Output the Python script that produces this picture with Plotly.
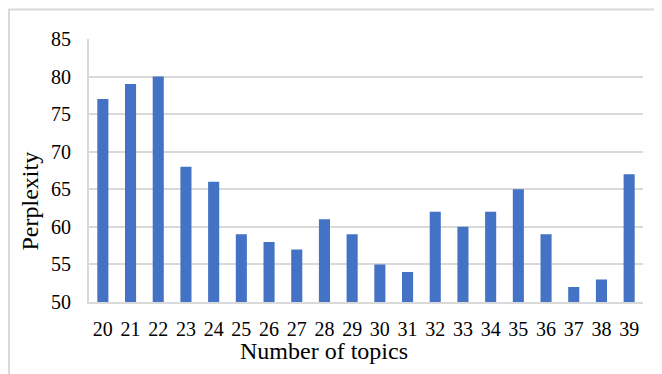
import plotly.graph_objects as go

topics = ["20","21","22","23","24","25","26","27","28","29","30","31","32","33","34","35","36","37","38","39"]
perplexity = [77, 79, 80, 68, 66, 59, 58, 57, 61, 59, 55, 54, 62, 60, 62, 65, 59, 52, 53, 67]
y_ticks = [50, 55, 60, 65, 70, 75, 80, 85]

font = "Liberation Serif, Times New Roman, serif"

W, H = 654, 366
L, R, T, B = 81, 19, 31, 72
pw, ph = W - L - R, H - T - B

fig = go.Figure(go.Bar(x=topics, y=perplexity, marker=dict(color="#4472C4", line=dict(width=0))))

fig.update_layout(
    width=W, height=H,
    margin=dict(l=L, r=R, t=T, b=B),
    paper_bgcolor="white", plot_bgcolor="white",
    bargap=0.6,
    font=dict(family=font, size=20, color="black"),
    showlegend=False,
    xaxis=dict(type="category", showgrid=False, showline=True, linecolor="#d9d9d9", linewidth=2,
               ticks="", ticklabelstandoff=8, automargin=False),
    yaxis=dict(range=[50, 85], tickvals=y_ticks, showgrid=True, gridcolor="#d9d9d9", gridwidth=2,
               showline=True, linecolor="#d9d9d9", linewidth=2, zeroline=False,
               ticks="", ticklabelstandoff=12, automargin=False),
    annotations=[
        dict(text="Number of topics", xref="paper", yref="paper",
             x=(323.5 - 8 - L) / pw, y=(H - B - (351 - 8)) / ph,
             xanchor="center", yanchor="middle", showarrow=False, font=dict(size=24)),
        dict(text="Perplexity", xref="paper", yref="paper", textangle=-90,
             x=(29.5 - 8 - L) / pw, y=(H - B - (201 - 8)) / ph,
             xanchor="center", yanchor="middle", showarrow=False, font=dict(size=24)),
    ],
    shapes=[dict(type="rect", xref="paper", yref="paper",
                 x0=(1 - L) / pw, x1=(W + 20 - L) / pw,
                 y0=-1, y1=(H - B - 1.5) / ph,
                 line=dict(color="#d9d9d9", width=2), fillcolor="rgba(0,0,0,0)", layer="below")],
)

fig.write_html("out.html")
